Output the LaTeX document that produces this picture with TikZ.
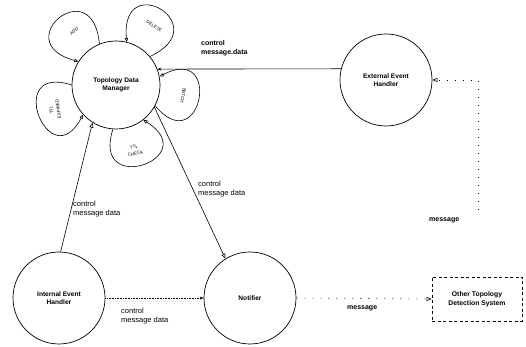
\documentclass[tikz,border=0pt]{standalone}
\usepackage{fontspec}
\setmainfont{Liberation Sans}
\usetikzlibrary{arrows.meta}

\newlength{\du}
\setlength{\du}{1pt}

\tikzset{
  process/.style={circle, draw, line width=0.7\du, minimum size=#1, inner sep=0pt,
    align=center, font=\fontsize{6.6}{8.5}\selectfont\bfseries},
  extsystem/.style={draw, line width=0.8\du, dash pattern=on 3\du off 2.5\du,
    minimum width=90\du, minimum height=44\du, inner sep=0pt, align=center,
    font=\fontsize{6.8}{9}\selectfont\bfseries},
  flow/.style={line width=0.6\du, -{Stealth[length=4pt,width=3pt]}},
  openflow/.style={line width=0.6\du, -{Triangle[open,length=5pt,width=4pt]}},
  sparse/.style={dash pattern=on 1\du off 7\du},
  flowlabel/.style={anchor=west, align=left, inner sep=0pt,
    font=\fontsize{7.5}{9.5}\selectfont},
  boldlabel/.style={flowlabel, font=\fontsize{7}{9.5}\selectfont\bfseries},
  petal/.style={line width=0.6\du, -{Triangle[open,length=4pt,width=3.5pt]}, distance=#1},
  petallabel/.style={inner sep=0.5pt, align=center, font=\fontsize{4.5}{7}\selectfont},
}

\begin{document}
\begin{tikzpicture}
\useasboundingbox (0\du,0\du) rectangle (526\du,347\du);

% processes
\node[process=88\du] (tdm) at (116\du,262\du) {Topology Data\\Manager};
\node[process=92\du] (eeh) at (386\du,267\du) {External Event\\Handler};
\node[process=92\du] (ieh) at (59\du,49\du) {Internal Event\\Handler};
\node[process=92\du] (notifier) at (250\du,49\du) {Notifier};
\node[extsystem] (otds) at (477\du,48\du) {Other Topology\\Detection System};

% loops on the manager
\draw[petal=74\du] (tdm.112) to[out=95,in=165] (tdm.148);
\draw[petal=74\du] (tdm.40) to[out=25,in=95] (tdm.76);
\draw[petal=72\du] (tdm.332) to[out=310,in=28] (tdm.11);
\draw[petal=72\du] (tdm.180) to[out=162,in=242] (tdm.222);
\draw[petal=72\du] (tdm.266) to[out=252,in=328] (tdm.308);
\node[petallabel, rotate=38] (lbladd) at ([shift={(128:68\du)}]tdm.center) {ADD};
\node[petallabel, rotate=-33] (lbldel) at ([shift={(57:70\du)}]tdm.center) {DELETE};
\node[petallabel, rotate=-99] (lblbatch) at ([shift={(-9:68\du)}]tdm.center) {BATCH};
\node[petallabel, rotate=98] (lblexp) at ([shift={(202:66\du)}]tdm.center) {TTL\\EXPIRED};
\node[petallabel, rotate=12] (lblchk) at ([shift={(286:68\du)}]tdm.center) {TTL\\CHECK};

% flows
\draw[flow] (eeh.166) -- (tdm.21);
\node[boldlabel] (lblext) at (201\du,299\du) {control\\message.data};

\coordinate (msrc) at (478\du,137\du);
\coordinate (mbend) at (478\du,267\du);
\draw[openflow, sparse] (msrc) -- (mbend) -- (eeh.east);
\node[boldlabel] (lblmsgin) at (429\du,127\du) {message};

\draw[openflow] (ieh.88) -- (tdm.238);
\node[flowlabel] (lblint) at (73\du,138\du) {control\\message data};

\draw[openflow] (tdm.330) -- (notifier.122);
\node[flowlabel] (lblnot) at (198\du,158\du) {control\\message data};

\draw[flow, densely dotted] (ieh.east) -- (notifier.west);
\node[flowlabel] (lblin) at (121\du,31\du) {control\\message data};

\draw[openflow, sparse] (notifier.east) -- (otds.west);
\node[boldlabel] (lblmsgout) at (347\du,39\du) {message};
\end{tikzpicture}
\end{document}
